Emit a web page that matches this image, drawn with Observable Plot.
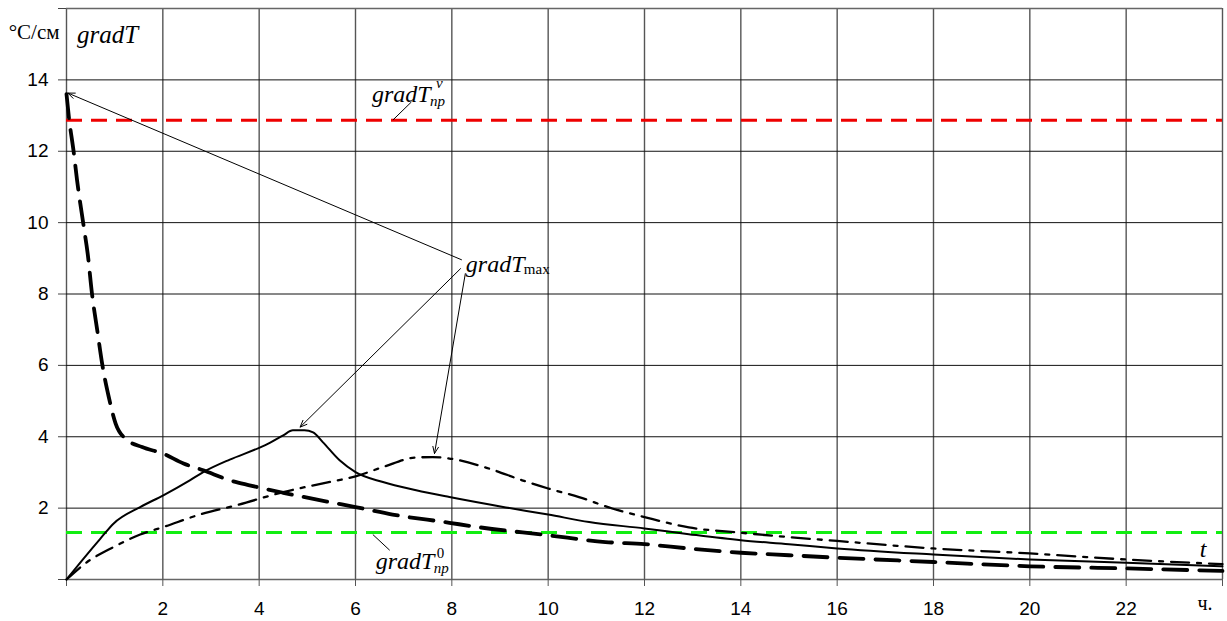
<!DOCTYPE html>
<html>
<head>
<meta charset="utf-8">
<script src="https://cdn.jsdelivr.net/npm/d3@7"></script>
<script src="https://cdn.jsdelivr.net/npm/@observablehq/plot@0.6"></script>
<style>
  html, body { margin: 0; padding: 0; background: #fff; }
  #chart { width: 1227px; height: 621px; }
</style>
</head>
<body>
<div id="chart"></div>
<script>
// ---- data ----
const xTicks = [0, 2, 4, 6, 8, 10, 12, 14, 16, 18, 20, 22, 24];
const yTicks = [0, 2, 4, 6, 8, 10, 12, 14, 16];
const xTickLabels = ["", "2", "4", "6", "8", "10", "12", "14", "16", "18", "20", "22", ""];
const yTickLabels = ["", "2", "4", "6", "8", "10", "12", "14", ""];

// thick dashed curve
const tDashed = [0, 0.05, 0.15, 0.22, 0.36, 0.44, 0.53, 0.64, 0.74, 0.88, 1.02, 1.22, 1.57, 2.0, 2.43, 2.84, 3.39, 3.8, 4.5, 5.46, 6.0, 6.77, 7.95, 8.43, 10, 11.19, 12, 12.92, 14, 15, 16, 18, 20, 22, 24];
const gDashed = [13.6, 12.95, 11.97, 11.18, 9.87, 9.13, 8.0, 6.97, 6.05, 5.1, 4.37, 3.95, 3.71, 3.53, 3.25, 3.06, 2.78, 2.64, 2.43, 2.17, 2.03, 1.82, 1.59, 1.49, 1.24, 1.05, 0.99, 0.87, 0.75, 0.68, 0.61, 0.49, 0.37, 0.31, 0.24];

// solid curve
const tSolid = [0, 0.35, 0.7, 0.98, 1.53, 2.01, 2.56, 2.84, 3.39, 4.0, 4.22, 4.5, 4.7, 4.94, 5.12, 5.32, 5.67, 6.0, 6.57, 7.26, 7.95, 9.12, 10, 10.85, 12, 12.92, 14, 15, 16, 18, 20, 22, 24];
const gSolid = [0, 0.58, 1.14, 1.57, 2.03, 2.36, 2.78, 3.01, 3.36, 3.69, 3.83, 4.04, 4.18, 4.18, 4.12, 3.85, 3.34, 3.01, 2.73, 2.5, 2.31, 2.02, 1.82, 1.61, 1.43, 1.27, 1.10, 0.99, 0.87, 0.70, 0.56, 0.47, 0.37];

// dash-dot curve
const tDashDot = [0, 0.43, 0.98, 1.53, 2.01, 2.77, 3.53, 4.5, 5.53, 6.0, 6.57, 7.26, 7.6, 7.95, 8.77, 9.46, 10, 10.64, 11.33, 12, 12.92, 14, 14.98, 16, 18, 20, 22, 24];
const gDashDot = [0, 0.49, 0.91, 1.26, 1.47, 1.82, 2.08, 2.45, 2.75, 2.89, 3.15, 3.42, 3.43, 3.39, 3.11, 2.78, 2.55, 2.31, 1.99, 1.75, 1.46, 1.31, 1.19, 1.08, 0.87, 0.73, 0.56, 0.43];

// limit lines
const gradLimitV = 12.87;  // gradT_пр^ν
const gradLimit0 = 1.32;   // gradT_пр^0

// annotation anchors (data units)
const maxLabel = {x: 8.29, y: 8.62};
const vLabel = {x: 6.34, y: 13.38};
const zeroLabel = {x: 6.42, y: 0.29};
const maxArrows = [
  {x1: 8.20, y1: 8.96, x2: 0.03, y2: 13.63},
  {x1: 8.18, y1: 8.71, x2: 4.85, y2: 4.27},
  {x1: 8.28, y1: 8.57, x2: 7.64, y2: 3.53}
];
const leaderLines = [
  {x1: 7.16, y1: 13.38, x2: 6.78, y2: 12.88},
  {x1: 6.36, y1: 1.26, x2: 6.71, y2: 0.82}
];
const unitLabel = {x: -1.2, y: 15.15, text: "°C/см"};
const yName = {x: 0.22, y: 15.03, text: "gradT"};
const tName = {x: 23.53, y: 0.63, text: "t"};
const hourLabel = {x: 23.48, y: -0.86, text: "ч."};

// ---- build ----
const toPts = (xs, ys) => xs.map((x, i) => ({x, y: ys[i]}));
const dashed = toPts(tDashed, gDashed);
const solid = toPts(tSolid, gSolid);
const dashDot = toPts(tDashDot, gDashDot);

const serif = "Liberation Serif, Times New Roman, serif";
const txt = (d, opts) => {
  const {label, ...rest} = opts;
  const s = label ?? d.text;
  return Plot.text([d], {x: "x", y: "y", text: () => s, textAnchor: "start", lineAnchor: "bottom", fontFamily: serif, fill: "#000", ...rest});
};
const BIG = 24, SMALL = 15;

const chart = Plot.plot({
  width: 1227,
  height: 621,
  marginLeft: 66,
  marginRight: 5,
  marginTop: 8,
  marginBottom: 42,
  style: {fontFamily: "Liberation Sans, Arial, sans-serif", fontSize: "19px", background: "#fff", color: "#000"},
  x: {domain: [0, 24]},
  y: {domain: [0, 16]},
  marks: [
    Plot.gridX({ticks: xTicks, stroke: "#555", strokeOpacity: 1, strokeWidth: 1.4}),
    Plot.gridY({ticks: yTicks, stroke: "#111", strokeOpacity: 1, strokeWidth: 1}),
    Plot.ruleY([0, 16], {stroke: "#666", strokeWidth: 1.6, x1: 0, x2: 24}),
    Plot.axisX({ticks: xTicks, tickSize: 7, tickPadding: 15, stroke: "#555", fill: "#000",
      tickFormat: (d) => xTickLabels[xTicks.indexOf(d)], label: null}),
    Plot.axisY({ticks: yTicks, tickSize: 8, tickPadding: 10, stroke: "#444", fill: "#000",
      tickFormat: (d) => yTickLabels[yTicks.indexOf(d)], label: null}),
    Plot.ruleY([gradLimitV], {stroke: "#ee0000", strokeWidth: 3, strokeDasharray: "16,9"}),
    Plot.ruleY([gradLimit0], {stroke: "#11ee11", strokeWidth: 3, strokeDasharray: "16,9"}),
    Plot.line(solid, {x: "x", y: "y", stroke: "#000", strokeWidth: 2, curve: "monotone-x"}),
    Plot.line(dashDot, {x: "x", y: "y", stroke: "#000", strokeWidth: 2.3, strokeDasharray: "18,8,4,8", curve: "monotone-x"}),
    Plot.line(dashed, {x: "x", y: "y", stroke: "#000", strokeWidth: 3.8, strokeDasharray: "24,12", curve: "monotone-x"}),
    Plot.arrow(maxArrows, {x1: "x1", y1: "y1", x2: "x2", y2: "y2", stroke: "#000", strokeWidth: 1, headLength: 11, headAngle: 45}),
    Plot.link(leaderLines, {x1: "x1", y1: "y1", x2: "x2", y2: "y2", stroke: "#000", strokeWidth: 1}),
    // gradT_max
    txt(maxLabel, {label: "gradT", fontSize: BIG, fontStyle: "italic"}),
    txt(maxLabel, {label: "max", fontSize: SMALL, dx: 58, dy: 2}),
    // gradT_пр^ν
    txt(vLabel, {label: "gradT", fontSize: BIG, fontStyle: "italic"}),
    txt(vLabel, {label: "пр", fontSize: SMALL, fontStyle: "italic", dx: 58, dy: 4}),
    txt(vLabel, {label: "ν", fontSize: SMALL, fontStyle: "italic", dx: 64, dy: -14}),
    // gradT_пр^0
    txt(zeroLabel, {label: "gradT", fontSize: BIG, fontStyle: "italic"}),
    txt(zeroLabel, {label: "пр", fontSize: SMALL, fontStyle: "italic", dx: 58, dy: 4}),
    txt(zeroLabel, {label: "0", fontSize: SMALL, dx: 61, dy: -11}),
    // axis names
    txt(unitLabel, {fontSize: 21}),
    txt(yName, {fontSize: 25, fontStyle: "italic"}),
    txt(tName, {fontSize: 24, fontStyle: "italic"}),
    txt(hourLabel, {fontSize: 20})
  ]
});
document.getElementById("chart").appendChild(chart);
</script>
</body>
</html>
